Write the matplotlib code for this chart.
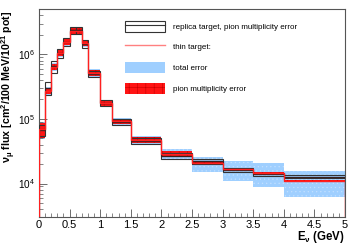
import matplotlib
matplotlib.use('Agg')
import matplotlib.pyplot as plt
import numpy as np
from matplotlib.patches import Rectangle
from matplotlib.lines import Line2D
from matplotlib.legend_handler import HandlerTuple
from matplotlib.ticker import MultipleLocator, LogLocator, NullFormatter

plt.rcParams['font.family'] = ['Liberation Sans', 'DejaVu Sans']
plt.rcParams['mathtext.default'] = 'regular'
plt.rcParams['hatch.linewidth'] = 0.4

# bin edges (GeV)
edges = [0, 0.1, 0.2, 0.3, 0.4, 0.5, 0.6, 0.7, 0.8, 1.0, 1.2, 1.5, 2.0, 2.5, 3.0, 3.5, 4.0, 5.0]
# thin target flux and relative errors
thin = [6.9e4, 2.74e5, 6.4e5, 1.06e6, 1.57e6, 2.33e6, 2.33e6, 1.5e6, 5.2e5, 1.77e5,
        9.2e4, 4.7e4, 2.9e4, 2.06e4, 1.66e4, 1.48e4, 1.1e4]
pion_err = [0.27, 0.11, 0.1, 0.1, 0.1, 0.1, 0.1, 0.1, 0.1, 0.1, 0.1, 0.1, 0.08, 0.06, 0.04, 0.03, 0.03]
total_err = [0.3, 0.15, 0.14, 0.13, 0.13, 0.13, 0.13, 0.13, 0.13, 0.12, 0.12, 0.16, 0.19, 0.26, 0.34, 0.4, 0.43]
# replica target flux and pion multiplicity error
replica = [6.8e4, 3.0e5, 6.55e5, 1.06e6, 1.57e6, 2.35e6, 2.35e6, 1.45e6, 5.0e5, 1.75e5,
           9.0e4, 4.6e4, 2.68e4, 2.2e4, 1.6e4, 1.4e4, 1.27e4]
replica_err = [0.2, 0.23, 0.22, 0.16, 0.14, 0.13, 0.13, 0.13, 0.12, 0.11, 0.11, 0.1, 0.09, 0.1, 0.07, 0.05, 0.05]

edges = np.array(edges)
thin = np.array(thin)
replica = np.array(replica)
left = edges[:-1]
width = np.diff(edges)

fig = plt.figure(figsize=(3.49, 2.44), dpi=100)
ax = fig.add_axes([0.1117, 0.1094, 0.877, 0.853])

blue = '#9fcfff'
red = '#ff1414'
ax.bar(left, 2 * thin * np.array(total_err), bottom=thin * (1 - np.array(total_err)),
       width=width, align='edge', color=blue, edgecolor='#c2e0ff', hatch='....', lw=0, zorder=1)
ax.bar(left, 2 * thin * np.array(pion_err), bottom=thin * (1 - np.array(pion_err)),
       width=width, align='edge', color=red, edgecolor='#c80000', hatch='++', lw=0, zorder=2)
ax.bar(left, 2 * replica * np.array(replica_err), bottom=replica * (1 - np.array(replica_err)),
       width=width, align='edge', fill=False, edgecolor='#333333', lw=0.8, zorder=3)
ax.hlines(replica, left, edges[1:], color='#333333', lw=0.9, zorder=3)
ax.stairs(replica, edges, color='#3a2020', lw=0.8, zorder=3)
ax.stairs(thin, edges, color='#ff2020', lw=1.0, zorder=4)

ax.set_yscale('log')
ax.set_xlim(0, 5)
ax.set_ylim(3e3, 5e6)

ax.xaxis.set_minor_locator(MultipleLocator(0.1))
ax.set_xticks([0, 0.5, 1, 1.5, 2, 2.5, 3, 3.5, 4, 4.5, 5])
ax.set_xticklabels(['0', '0.5', '1', '1.5', '2', '2.5', '3', '3.5', '4', '4.5', '5'])
ax.set_yticks([1e4, 1e5, 1e6])
ax.set_yticklabels(['10$^{4}$', '10$^{5}$', '10$^{6}$'])
ax.yaxis.set_minor_locator(LogLocator(base=10, subs=np.arange(2, 10)))
ax.yaxis.set_minor_formatter(NullFormatter())
ax.tick_params(which='both', direction='in', color='#555555')
ax.tick_params(axis='x', labelsize=8, pad=2)
ax.tick_params(axis='y', labelsize=7.2, pad=3)
ax.tick_params(which='major', length=6, width=0.6)
ax.tick_params(which='minor', length=3, width=0.5)
for s in ax.spines.values():
    s.set_color('#555555')
    s.set_linewidth(0.8)

ax.text(1.0, -0.096, 'E$_{ν}$ (GeV)', transform=ax.transAxes, ha='right', va='center',
        fontsize=8.3, fontweight='bold')
fig.text(0.025, 0.955, 'ν$_{μ}$ flux [cm$^{2}$/100 MeV/10$^{21}$ pot]', rotation=90,
         ha='center', va='top', fontsize=7.7, fontweight='bold')

h_rep = (Rectangle((0, 0), 1, 1, fill=False, edgecolor='#333333', lw=0.8),
         Line2D([], [], color='#333333', lw=0.8))
h_thin = Line2D([], [], color='#ff8080', lw=1.0)
h_tot = Rectangle((0, 0), 1, 1, color=blue, hatch='....', edgecolor='#c2e0ff', lw=0)
h_pion = Rectangle((0, 0), 1, 1, facecolor=red, edgecolor='#c80000', hatch='++', lw=0)
leg = ax.legend([h_rep, h_thin, h_tot, h_pion],
                ['replica target, pion multiplicity error', 'thin target:', 'total error',
                 'pion multiplicity error'],
                handler_map={tuple: HandlerTuple(ndivide=1, pad=0)},
                loc='upper left', bbox_to_anchor=(0.28, 0.945), frameon=False,
                fontsize=5.8, handlelength=5.0, handleheight=1.75, labelspacing=1.18,
                handletextpad=1.0, borderpad=0, borderaxespad=0)

fig.savefig('out.png', dpi=100)
